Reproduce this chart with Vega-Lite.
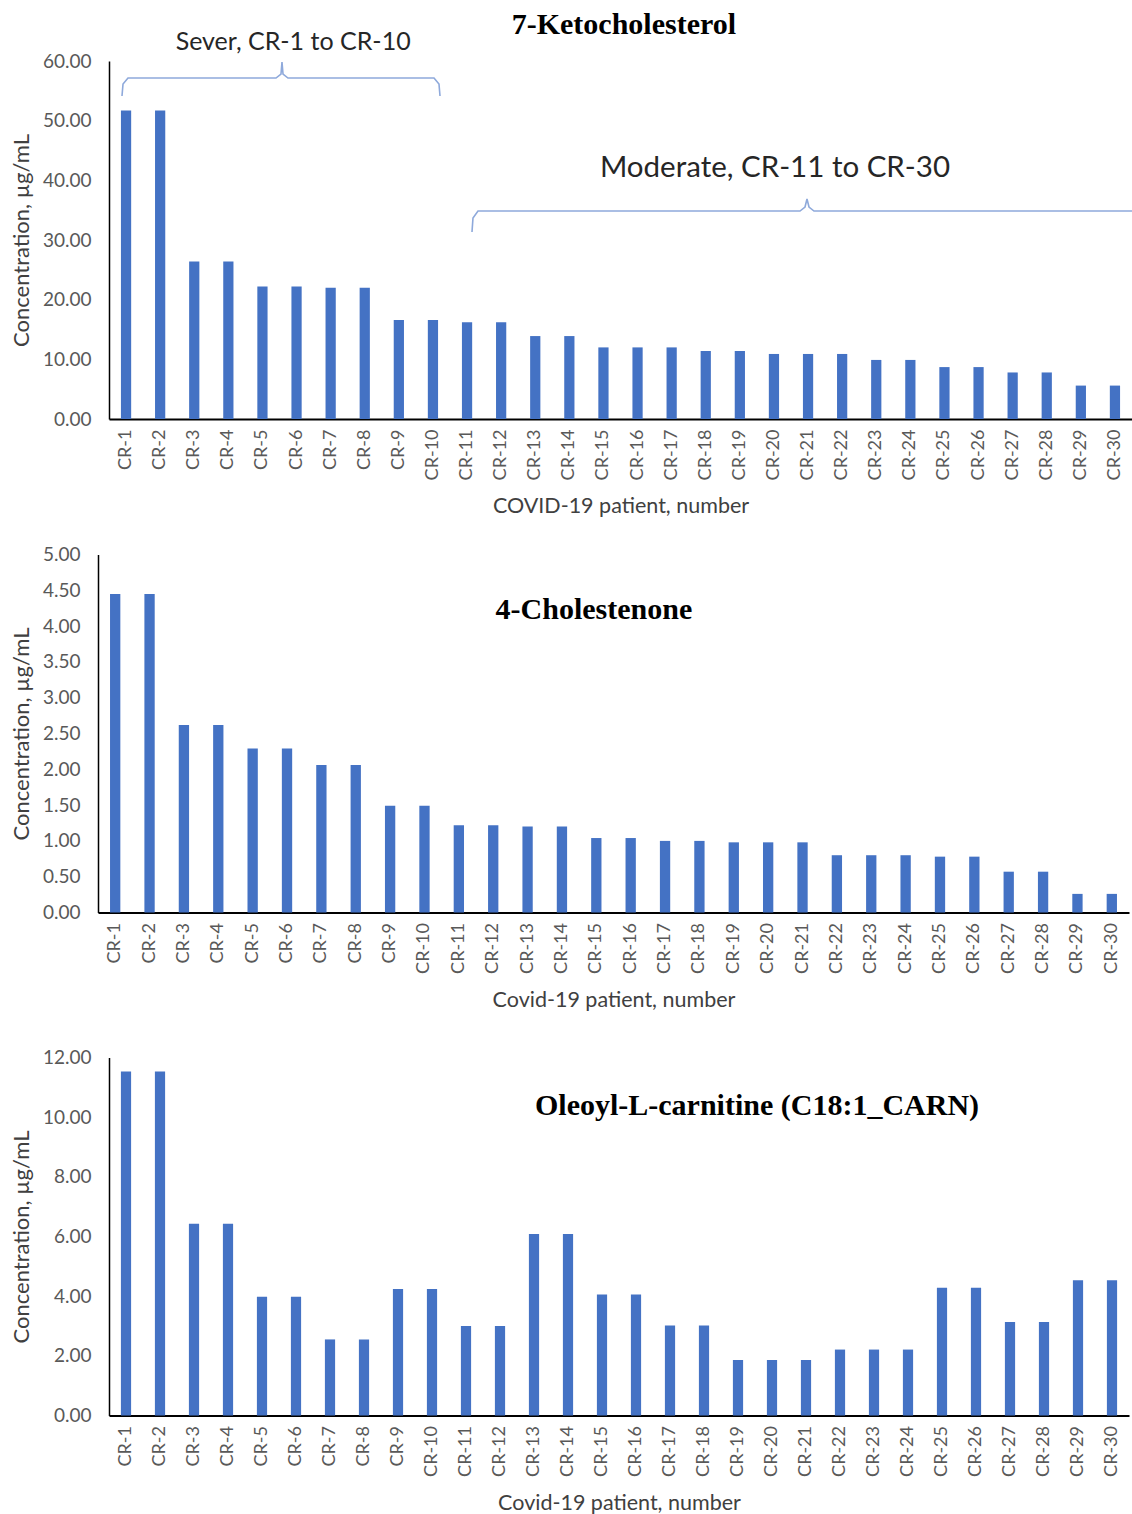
{
  "$schema": "https://vega.github.io/schema/vega-lite/v6.json",
  "padding": {"left": 10, "top": 10, "right": 0, "bottom": 0},
  "background": "white",
  "datasets": {
    "patients": [
      {"patient": "CR-1", "keto": 51.7, "chol": 4.45, "oleo": 11.53},
      {"patient": "CR-2", "keto": 51.7, "chol": 4.45, "oleo": 11.53},
      {"patient": "CR-3", "keto": 26.4, "chol": 2.62, "oleo": 6.43},
      {"patient": "CR-4", "keto": 26.4, "chol": 2.62, "oleo": 6.43},
      {"patient": "CR-5", "keto": 22.2, "chol": 2.29, "oleo": 3.98},
      {"patient": "CR-6", "keto": 22.2, "chol": 2.29, "oleo": 3.98},
      {"patient": "CR-7", "keto": 22.0, "chol": 2.06, "oleo": 2.55},
      {"patient": "CR-8", "keto": 22.0, "chol": 2.06, "oleo": 2.55},
      {"patient": "CR-9", "keto": 16.6, "chol": 1.49, "oleo": 4.24},
      {"patient": "CR-10", "keto": 16.6, "chol": 1.49, "oleo": 4.24},
      {"patient": "CR-11", "keto": 16.2, "chol": 1.22, "oleo": 3.0},
      {"patient": "CR-12", "keto": 16.2, "chol": 1.22, "oleo": 3.0},
      {"patient": "CR-13", "keto": 13.9, "chol": 1.2, "oleo": 6.08},
      {"patient": "CR-14", "keto": 13.9, "chol": 1.2, "oleo": 6.08},
      {"patient": "CR-15", "keto": 12.0, "chol": 1.04, "oleo": 4.06},
      {"patient": "CR-16", "keto": 12.0, "chol": 1.04, "oleo": 4.06},
      {"patient": "CR-17", "keto": 12.0, "chol": 1.0, "oleo": 3.02},
      {"patient": "CR-18", "keto": 11.4, "chol": 1.0, "oleo": 3.02},
      {"patient": "CR-19", "keto": 11.4, "chol": 0.98, "oleo": 1.86},
      {"patient": "CR-20", "keto": 10.9, "chol": 0.98, "oleo": 1.86},
      {"patient": "CR-21", "keto": 10.9, "chol": 0.98, "oleo": 1.86},
      {"patient": "CR-22", "keto": 10.9, "chol": 0.8, "oleo": 2.21},
      {"patient": "CR-23", "keto": 9.9, "chol": 0.8, "oleo": 2.21},
      {"patient": "CR-24", "keto": 9.9, "chol": 0.8, "oleo": 2.21},
      {"patient": "CR-25", "keto": 8.7, "chol": 0.78, "oleo": 4.28},
      {"patient": "CR-26", "keto": 8.7, "chol": 0.78, "oleo": 4.28},
      {"patient": "CR-27", "keto": 7.8, "chol": 0.57, "oleo": 3.13},
      {"patient": "CR-28", "keto": 7.8, "chol": 0.57, "oleo": 3.13},
      {"patient": "CR-29", "keto": 5.6, "chol": 0.26, "oleo": 4.53},
      {"patient": "CR-30", "keto": 5.6, "chol": 0.26, "oleo": 4.53}
    ],
    "brackets": [
      {"grp": "sever", "ord": 1, "bx": 0.381, "by": 54.13},
      {"grp": "sever", "ord": 2, "bx": 0.411, "by": 56.14},
      {"grp": "sever", "ord": 3, "bx": 0.557, "by": 57.15},
      {"grp": "sever", "ord": 4, "bx": 4.897, "by": 57.15},
      {"grp": "sever", "ord": 5, "bx": 5.044, "by": 57.82},
      {"grp": "sever", "ord": 6, "bx": 5.073, "by": 59.83},
      {"grp": "sever", "ord": 7, "bx": 5.103, "by": 57.82},
      {"grp": "sever", "ord": 8, "bx": 5.249, "by": 57.15},
      {"grp": "sever", "ord": 9, "bx": 9.531, "by": 57.15},
      {"grp": "sever", "ord": 10, "bx": 9.677, "by": 56.14},
      {"grp": "sever", "ord": 11, "bx": 9.707, "by": 54.13},
      {"grp": "moderate", "ord": 1, "bx": 10.645, "by": 31.34},
      {"grp": "moderate", "ord": 2, "bx": 10.674, "by": 33.69},
      {"grp": "moderate", "ord": 3, "bx": 10.821, "by": 34.86},
      {"grp": "moderate", "ord": 4, "bx": 20.264, "by": 34.86},
      {"grp": "moderate", "ord": 5, "bx": 20.411, "by": 35.53},
      {"grp": "moderate", "ord": 6, "bx": 20.469, "by": 36.87},
      {"grp": "moderate", "ord": 7, "bx": 20.528, "by": 35.53},
      {"grp": "moderate", "ord": 8, "bx": 20.674, "by": 34.86},
      {"grp": "moderate", "ord": 9, "bx": 30.0, "by": 34.86}
    ]
  },
  "vconcat": [
    {
      "vconcat": [
        {
          "width": 1023,
          "height": 358,
          "layer": [
            {
              "data": {"name": "patients"},
              "mark": {"type": "bar", "color": "#4472C4"},
              "encoding": {
                "x": {"field": "patient", "type": "ordinal", "sort": null, "scale": {"paddingInner": 0.7, "paddingOuter": 0.35}, "axis": {"title": "COVID-19 patient, number"}},
                "y": {"field": "keto", "type": "quantitative", "scale": {"domain": [0, 60], "nice": false}, "axis": {"title": "Concentration, µg/mL", "values": [0, 10, 20, 30, 40, 50, 60], "format": ".2f"}}
              }
            },
            {
              "data": {"name": "brackets"},
              "mark": {"type": "line", "color": "#8EA9DB", "strokeWidth": 1.6},
              "encoding": {
                "x": {"field": "bx", "type": "quantitative", "scale": {"domain": [0, 30]}, "axis": null},
                "y": {"field": "by", "type": "quantitative", "scale": {"domain": [0, 60], "nice": false}, "axis": {"title": "Concentration, µg/mL", "values": [0, 10, 20, 30, 40, 50, 60], "format": ".2f"}},
                "detail": {"field": "grp"},
                "order": {"field": "ord"}
              }
            },
            {
              "data": {"values": [{}]},
              "mark": {"type": "text", "text": "Sever, CR-1 to CR-10", "font": "Lato", "fontSize": 25, "color": "#262626"},
              "encoding": {
                "x": {"datum": 5.4, "type": "quantitative", "scale": {"domain": [0, 30]}, "axis": null},
                "y": {"datum": 63.2, "type": "quantitative", "scale": {"domain": [0, 60], "nice": false}, "axis": {"title": "Concentration, µg/mL", "values": [0, 10, 20, 30, 40, 50, 60], "format": ".2f"}}
              }
            },
            {
              "data": {"values": [{}]},
              "mark": {"type": "text", "text": "Moderate, CR-11 to CR-30", "font": "Lato", "fontSize": 29.5, "color": "#262626"},
              "encoding": {
                "x": {"datum": 19.53, "type": "quantitative", "scale": {"domain": [0, 30]}, "axis": null},
                "y": {"datum": 42.06, "type": "quantitative", "scale": {"domain": [0, 60], "nice": false}, "axis": {"title": "Concentration, µg/mL", "values": [0, 10, 20, 30, 40, 50, 60], "format": ".2f"}}
              }
            },
            {
              "data": {"values": [{}]},
              "mark": {"type": "text", "text": "7-Ketocholesterol", "font": "Liberation Serif", "fontWeight": "bold", "fontSize": 30, "color": "#000000"},
              "encoding": {
                "x": {"datum": 15.1, "type": "quantitative", "scale": {"domain": [0, 30]}, "axis": null},
                "y": {"datum": 66.0, "type": "quantitative", "scale": {"domain": [0, 60], "nice": false}, "axis": {"title": "Concentration, µg/mL", "values": [0, 10, 20, 30, 40, 50, 60], "format": ".2f"}}
              }
            }
          ],
          "resolve": {"scale": {"x": "independent"}}
        },
        {
          "width": 1020,
          "height": 358,
          "layer": [
            {
              "data": {"name": "patients"},
              "mark": {"type": "bar", "color": "#4472C4"},
              "encoding": {
                "x": {"field": "patient", "type": "ordinal", "sort": null, "scale": {"paddingInner": 0.7, "paddingOuter": 0.35, "range": [-11, 1020]}, "axis": {"title": "Covid-19 patient, number"}},
                "y": {"field": "chol", "type": "quantitative", "scale": {"domain": [0, 5], "nice": false}, "axis": {"title": "Concentration, µg/mL", "values": [0, 0.5, 1, 1.5, 2, 2.5, 3, 3.5, 4, 4.5, 5], "format": ".2f", "offset": 11}}
              }
            },
            {
              "data": {"values": [{}]},
              "mark": {"type": "text", "text": "4-Cholestenone", "font": "Liberation Serif", "fontWeight": "bold", "fontSize": 30, "color": "#000000"},
              "encoding": {
                "x": {"datum": 14.43, "type": "quantitative", "scale": {"domain": [0, 30], "range": [-11, 1020]}, "axis": null},
                "y": {"datum": 4.23, "type": "quantitative", "scale": {"domain": [0, 5], "nice": false}, "axis": {"title": "Concentration, µg/mL", "values": [0, 0.5, 1, 1.5, 2, 2.5, 3, 3.5, 4, 4.5, 5], "format": ".2f", "offset": 11}}
              }
            }
          ],
          "resolve": {"scale": {"x": "independent"}}
        }
      ],
      "spacing": 27.5
    },
    {
      "width": 1020,
      "height": 358,
      "layer": [
        {
          "data": {"name": "patients"},
          "mark": {"type": "bar", "color": "#4472C4"},
          "encoding": {
            "x": {"field": "patient", "type": "ordinal", "sort": null, "scale": {"paddingInner": 0.7, "paddingOuter": 0.35}, "axis": {"title": "Covid-19 patient, number"}},
            "y": {"field": "oleo", "type": "quantitative", "scale": {"domain": [0, 12], "nice": false}, "axis": {"title": "Concentration, µg/mL", "values": [0, 2, 4, 6, 8, 10, 12], "format": ".2f"}}
          }
        },
        {
          "data": {"values": [{}]},
          "mark": {"type": "text", "text": "Oleoyl-L-carnitine (C18:1_CARN)", "font": "Liberation Serif", "fontWeight": "bold", "fontSize": 30, "color": "#000000"},
          "encoding": {
            "x": {"datum": 19.06, "type": "quantitative", "scale": {"domain": [0, 30]}, "axis": null},
            "y": {"datum": 10.39, "type": "quantitative", "scale": {"domain": [0, 12], "nice": false}, "axis": {"title": "Concentration, µg/mL", "values": [0, 2, 4, 6, 8, 10, 12], "format": ".2f"}}
          }
        }
      ],
      "resolve": {"scale": {"x": "independent"}}
    }
  ],
  "spacing": 37.5,
  "config": {
    "view": {"stroke": null},
    "axis": {"grid": false, "ticks": false, "tickSize": 0, "domainColor": "#000000", "labelFont": "Lato", "titleFont": "Lato", "labelColor": "#595959", "titleColor": "#404040", "titleFontWeight": "normal"},
    "axisX": {"labelAngle": -90, "labelFontSize": 18, "labelPadding": 10, "titleFontSize": 21.5, "titlePadding": 16, "domainWidth": 2},
    "axisY": {"labelFontSize": 19, "labelPadding": 18, "titleFontSize": 22, "titlePadding": 9, "domainWidth": 1.5}
  }
}
